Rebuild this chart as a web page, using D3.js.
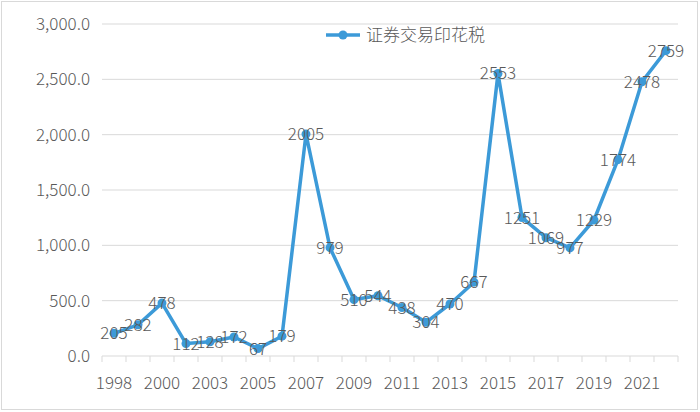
<!DOCTYPE html><html><head><meta charset="utf-8"><script src="https://cdn.jsdelivr.net/npm/d3@7"></script>
<style>body{margin:0;background:#fff}text{font-family:"Noto Sans CJK SC","DejaVu Sans",sans-serif;font-weight:300}</style></head><body><svg id="c" width="700" height="412"></svg><script>
const years=["1998","1999","2000","2001","2003","2004","2005","2006","2007","2008","2009","2010","2011","2012","2013","2014","2015","2016","2017","2018","2019","2020","2021","2022"];
const values=[205,282,478,112,128,172,67,179,2005,979,510,544,438,304,470,667,2553,1251,1069,977,1229,1774,2478,2759];
const yTicks=[0,500,1000,1500,2000,2500,3000];
const seriesName="证券交易印花税";
const svg=d3.select("#c");
svg.append("rect").attr("x",1.5).attr("y",1.5).attr("width",696).attr("height",408).attr("fill","#fff").attr("stroke","#d9d9d9");
const x=d3.scaleBand().domain(years).range([102,678]);
const y=d3.scaleLinear().domain([0,3000]).range([356,24]);
const col="#3c9ad8",tc="#595959",fs=17;
svg.append("g").selectAll("line").data(yTicks).join("line").attr("x1",102).attr("x2",678).attr("y1",d=>y(d)).attr("y2",d=>y(d)).attr("stroke","#d9d9d9");
svg.append("g").selectAll("text").data(yTicks).join("text").attr("x",90).attr("y",d=>y(d)+6).attr("text-anchor","end").attr("fill",tc).attr("font-size",fs).text(d3.format(",.1f"));
const bw=x.bandwidth();
svg.append("g").selectAll("line").data(years.concat(["end"])).join("line").attr("x1",(d,i)=>102+i*bw).attr("x2",(d,i)=>102+i*bw).attr("y1",356).attr("y2",362).attr("stroke","#d9d9d9");
svg.append("g").selectAll("text").data(years.filter((d,i)=>i%2==0)).join("text").attr("x",d=>x(d)+bw/2).attr("y",389).attr("text-anchor","middle").attr("fill",tc).attr("font-size",fs).text(d=>d);
const cx=(d,i)=>x(years[i])+bw/2;
svg.append("path").datum(values).attr("d",d3.line().x((d,i)=>cx(d,i)).y(d=>y(d))).attr("fill","none").attr("stroke",col).attr("stroke-width",3.5).attr("stroke-linejoin","round");
svg.append("g").selectAll("circle").data(values).join("circle").attr("cx",cx).attr("cy",d=>y(d)).attr("r",4.5).attr("fill",col);
svg.append("g").selectAll("text").data(values).join("text").attr("x",cx).attr("y",d=>y(d)+6).attr("text-anchor","middle").attr("fill",tc).attr("font-size",fs).text(d=>d);
const lg=svg.append("g");
lg.append("line").attr("x1",326).attr("x2",360).attr("y1",35).attr("y2",35).attr("stroke",col).attr("stroke-width",3.5);
lg.append("circle").attr("cx",343).attr("cy",35).attr("r",4.5).attr("fill",col);
lg.append("text").attr("x",366).attr("y",41).attr("fill",tc).attr("font-size",fs).text(seriesName);
</script></body></html>
